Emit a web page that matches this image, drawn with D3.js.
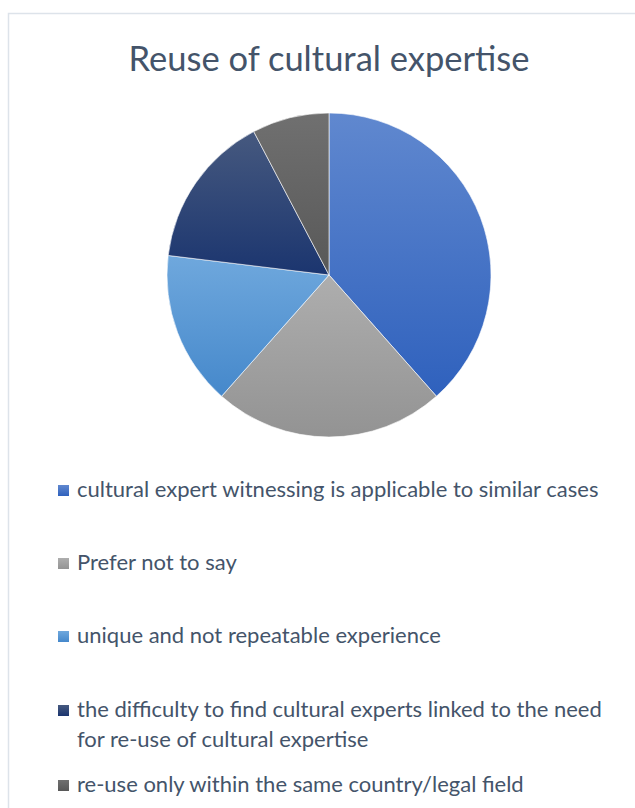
<!DOCTYPE html>
<html>
<head>
<meta charset="utf-8">
<title>Reuse of cultural expertise</title>
<script src="https://cdn.jsdelivr.net/npm/d3@7"></script>
<style>
  body { margin: 0; background: #fff; }
  svg { display: block; font-family: Lato, "Open Sans", sans-serif; }
</style>
</head>
<body>
<script>
  var labels = [
    "cultural expert witnessing is applicable to similar cases",
    "Prefer not to say",
    "unique and not repeatable experience",
    "the difficulty to find cultural experts linked to the need for re-use of cultural expertise",
    "re-use only within the same country/legal field"
  ];
  var counts = [5, 3, 2, 2, 1];
  // top and bottom colour of each slice gradient
  var topColors = ["#6088cf", "#aeaeae", "#6fa8dd", "#46597f", "#707070"];
  var bottomColors = ["#2f61bd", "#939393", "#4588cb", "#1b356f", "#585858"];

  var width = 635, height = 808;
  var cx = 329, cy = 275, radius = 162;

  var svg = d3.select("body").append("svg")
      .attr("width", width)
      .attr("height", height);

  // chart area border (runs off the right and bottom edges)
  svg.append("rect")
      .attr("x", 8.5).attr("y", 13.5)
      .attr("width", 700).attr("height", 900)
      .attr("fill", "none")
      .attr("stroke", "#dde3ea")
      .attr("stroke-width", 1.5);

  svg.append("text")
      .attr("x", cx).attr("y", 71)
      .attr("text-anchor", "middle")
      .attr("font-size", "34.5px")
      .attr("fill", "#44546a")
      .text("Reuse of cultural expertise");

  var defs = svg.append("defs");
  var grads = defs.selectAll("linearGradient")
      .data(labels).enter().append("linearGradient")
      .attr("id", function(d, i) { return "g" + i; })
      .attr("x1", 0).attr("y1", 0).attr("x2", 0).attr("y2", 1);
  grads.append("stop").attr("offset", "0%").attr("stop-color", function(d, i) { return topColors[i]; });
  grads.append("stop").attr("offset", "100%").attr("stop-color", function(d, i) { return bottomColors[i]; });

  var pie = d3.pie().sort(null).value(function(d) { return d; });
  var arc = d3.arc().innerRadius(0).outerRadius(radius);

  svg.append("g")
      .attr("transform", "translate(" + cx + "," + cy + ")")
    .selectAll("path")
      .data(pie(counts)).enter().append("path")
      .attr("d", arc)
      .attr("fill", function(d, i) { return "url(#g" + i + ")"; })
      .attr("stroke", "#fff")
      .attr("stroke-width", 0.6);

  // legend
  var rowY = [497, 570, 643, 717, 792];
  var lineH = 30, maxW = 545;
  var legend = svg.append("g");

  labels.forEach(function(lab, i) {
    var g = legend.append("g");
    g.append("rect")
        .attr("x", 58).attr("y", rowY[i] - 12)
        .attr("width", 11).attr("height", 11)
        .attr("fill", "url(#g" + i + ")");
    var t = g.append("text")
        .attr("x", 77).attr("y", rowY[i])
        .attr("font-size", "22px")
        .attr("fill", "#44546a");
    var words = lab.split(" "), line = [], ts = t.append("tspan").attr("x", 77);
    words.forEach(function(w) {
      line.push(w);
      ts.text(line.join(" "));
      if (ts.node().getComputedTextLength() > maxW && line.length > 1) {
        line.pop();
        ts.text(line.join(" "));
        line = [w];
        ts = t.append("tspan").attr("x", 77).attr("dy", lineH).text(w);
      }
    });
  });
</script>
</body>
</html>
